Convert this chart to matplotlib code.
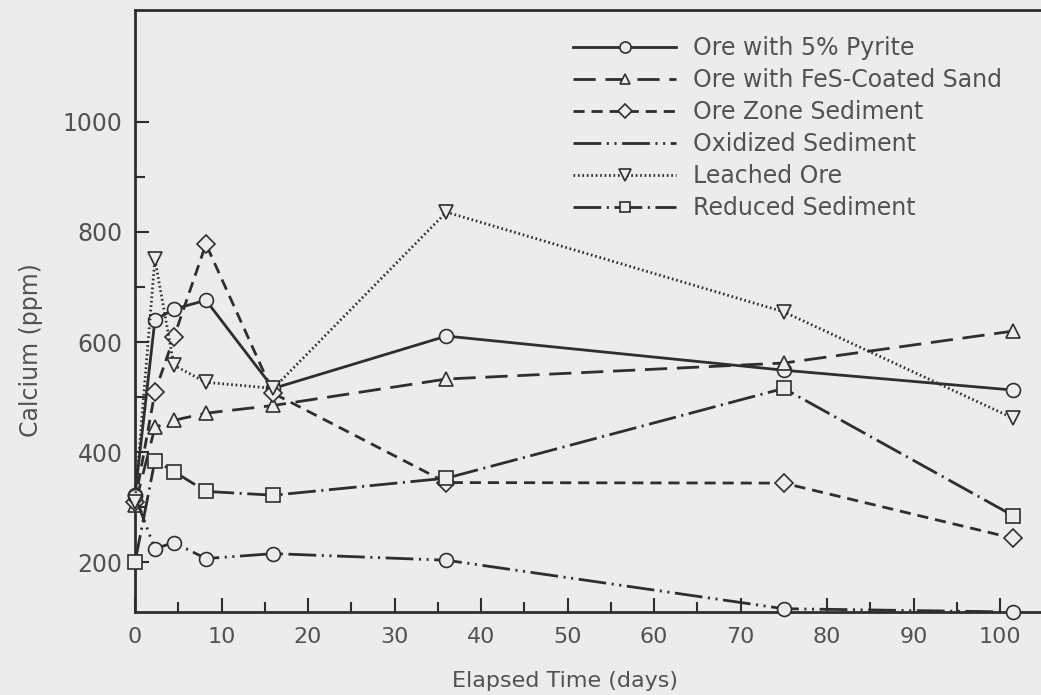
import matplotlib
matplotlib.use("Agg")
import matplotlib.pyplot as plt
from matplotlib.lines import Line2D

plt.rcParams['font.family'] = ['DejaVu Sans']
plt.rcParams['lines.scale_dashes'] = False

days = [0, 2.3, 4.5, 8.2, 16, 36, 75, 101.5]
pyrite = [322, 640, 660, 676, 516, 611, 549, 513]
fes_sand = [304, 445, 458, 471, 485, 533, 562, 620]
ore_zone = [310, 509, 609, 778, 507, 345, 344, 244]
oxidized = [320, 225, 236, 207, 216, 204, 116, 110]
leached = [310, 751, 558, 527, 516, 836, 655, 462]
reduced = [200, 385, 365, 329, 322, 353, 516, 285]

labels = ["Ore with 5% Pyrite", "Ore with FeS-Coated Sand", "Ore Zone Sediment",
          "Oxidized Sediment", "Leached Ore", "Reduced Sediment"]

BG = '#ececec'
LC = '#2e2e2e'
TC = '#525252'

fig = plt.figure(figsize=(10.41, 6.95), dpi=100, facecolor=BG)
ax = fig.add_axes([135/1041, (695-612)/695, (1041-135)/1041, (612-10)/695])
ax.set_facecolor(BG)

styles = [
    dict(ls='-', marker='o', ms=10),
    dict(ls=(0, (16, 7)), marker='^', ms=9.5),
    dict(ls=(0, (8, 5)), marker='D', ms=9.5),
    dict(ls=(0, (20, 4, 1.5, 4, 1.5, 4)), marker='o', ms=10),
    dict(ls=(0, (1.2, 2.0)), marker='v', ms=10),
    dict(ls=(0, (20, 4, 1.5, 4)), marker='s', ms=9.5),
]
series = [pyrite, fes_sand, ore_zone, oxidized, leached, reduced]

for vals, st in zip(series, styles):
    ax.plot(days, vals, color=LC, lw=2.0, linestyle=st['ls'], marker=st['marker'],
            ms=st['ms'], mfc=BG, mec=LC, mew=1.2, clip_on=False, zorder=3)

ax.set_xlim(0, (1041-135)/8.65)
ax.set_ylim(110, 1203)
ax.set_xticks(range(0, 101, 10))
ax.set_xticks(range(5, 101, 10), minor=True)
ax.set_yticks(range(200, 1001, 200))
ax.set_yticks(range(300, 1001, 200), minor=True)
ax.tick_params(axis='both', which='major', direction='in', length=10, width=1.5,
               colors=LC, labelcolor=TC)
ax.tick_params(axis='y', which='major', labelsize=17, pad=9)
ax.tick_params(axis='x', which='major', labelsize=16, pad=11)
ax.tick_params(axis='both', which='minor', direction='in', length=7, width=1.5, colors=LC)
for s in ['left', 'bottom', 'top']:
    ax.spines[s].set_color(LC)
    ax.spines[s].set_linewidth(2)
ax.spines['right'].set_visible(False)

ax.set_xlabel("Elapsed Time (days)", fontsize=16, color=TC)
ax.set_ylabel("Calcium (ppm)", fontsize=17, color=TC)
ax.xaxis.set_label_coords(0.475, -0.098)
ax.yaxis.set_label_coords(-0.102, 0.435)

handles = []
for i, st in enumerate(styles):
    mk = 'None' if i == 3 else st['marker']
    handles.append(Line2D([], [], color=LC, lw=2.0, linestyle=st['ls'], marker=mk,
                          ms=st['ms'] * 0.8, mfc=BG, mec=LC, mew=1.2))
leg = ax.legend(handles, labels, loc='upper left', bbox_to_anchor=(0.483, 0.957),
                frameon=False, fontsize=17, handlelength=4.4, handletextpad=0.68,
                labelspacing=0.34, borderaxespad=0, borderpad=0, numpoints=1)
for t in leg.get_texts():
    t.set_color(TC)

fig.savefig("out.png", dpi=100, facecolor=BG)
